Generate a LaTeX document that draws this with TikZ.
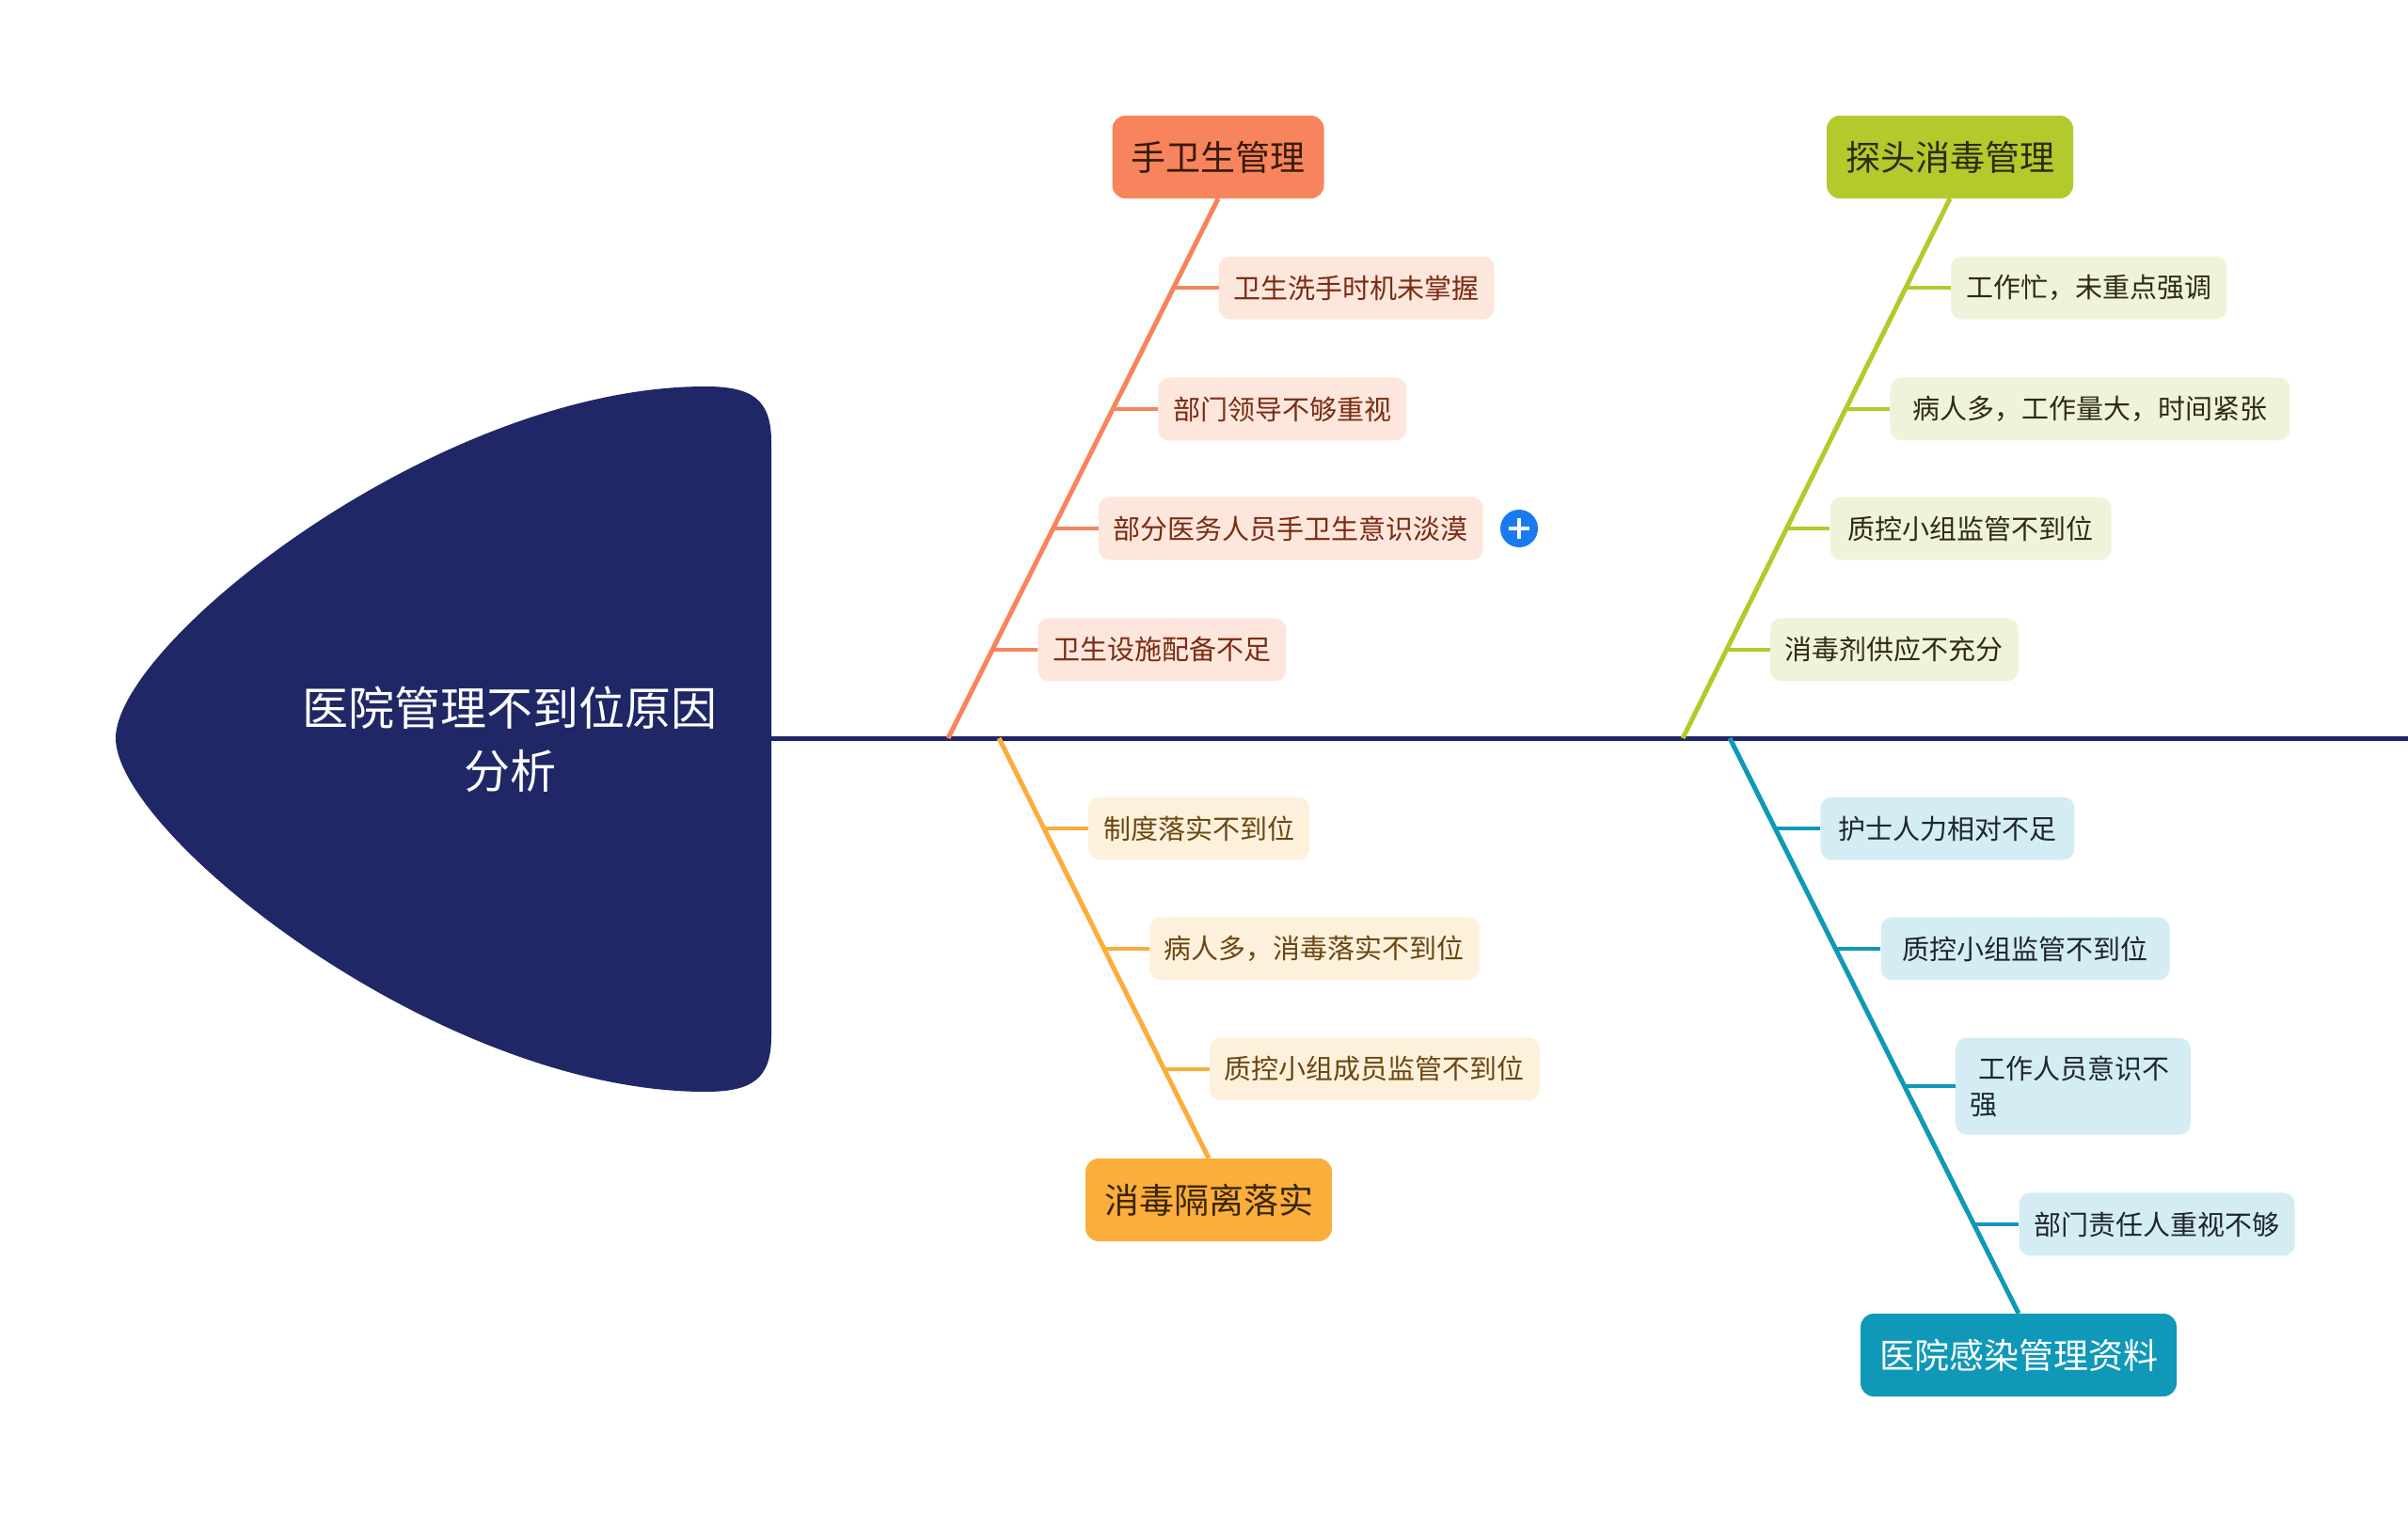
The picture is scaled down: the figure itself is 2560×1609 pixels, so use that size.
\documentclass[tikz,border=0pt]{standalone}
\usepackage{fontspec}
\setmainfont{Noto Sans CJK SC}
\usetikzlibrary{positioning,calc}

\definecolor{navy}{HTML}{1F2766}
\definecolor{handC}{HTML}{F7845C}
\definecolor{handL}{HTML}{FDE6DC}
\definecolor{handT}{HTML}{7A2B12}
\definecolor{handD}{HTML}{3A1A0C}
\definecolor{probeC}{HTML}{B4C92C}
\definecolor{probeL}{HTML}{F0F3DA}
\definecolor{probeT}{HTML}{2C2C14}
\definecolor{isoC}{HTML}{FBAE3B}
\definecolor{isoL}{HTML}{FEF1DC}
\definecolor{isoT}{HTML}{6A4611}
\definecolor{isoD}{HTML}{3A2608}
\definecolor{infC}{HTML}{0F98B7}
\definecolor{infL}{HTML}{D4EDF5}
\definecolor{infT}{HTML}{1E262C}
\definecolor{plusblue}{HTML}{1A7BF0}

\begin{document}
\begin{tikzpicture}
[
x=1pt, y=-1pt,
cat/.style={rounded corners=14pt, minimum height=88pt, inner xsep=20pt, font=\fontsize{37}{44}\selectfont},
leaf/.style={rounded corners=12pt, minimum height=67pt, inner xsep=16pt, font=\fontsize{29}{38}\selectfont},
bone/.style={line width=5pt},
twig/.style={line width=4pt}
]
\fill[white] (0,0) rectangle (2560,1609);
\useasboundingbox (0,0) rectangle (2560,1609);

% head and spine
\fill[navy] (123,785) .. controls (123,684) and (466,411) .. (750,411)
  .. controls (800,411) and (820,425) .. (820,470) -- (820,1102)
  .. controls (820,1147) and (800,1161) .. (750,1161)
  .. controls (466,1161) and (123,886) .. (123,785) -- cycle;
\node[text=white, align=center, font=\fontsize{49}{67}\selectfont] (head) at (542,786) {医院管理不到位原因\\分析};
\coordinate (spineL) at (820,785);
\coordinate (spineR) at (2560,785);
\draw[navy, line width=5pt] (spineL) -- (spineR);

% hand hygiene
\node[cat, fill=handC, text=handD] (hand) at (1295,167) {手卫生管理};
\coordinate (handS) at (1008,785);
\draw[bone, handC] (hand.south) -- (handS);
\coordinate (hand1) at ($(hand.south)!0.1655!(handS)$);
\coordinate (hand2) at ($(hand.south)!0.39!(handS)$);
\coordinate (hand3) at ($(hand.south)!0.6115!(handS)$);
\coordinate (hand4) at ($(hand.south)!0.836!(handS)$);
\node[leaf, fill=handL, text=handT, right=48pt of hand1] (handA) {卫生洗手时机未掌握};
\node[leaf, fill=handL, text=handT, right=48pt of hand2] (handB) {部门领导不够重视};
\node[leaf, fill=handL, text=handT, right=48pt of hand3] (handC) {部分医务人员手卫生意识淡漠};
\node[leaf, fill=handL, text=handT, right=48pt of hand4] (handD) {卫生设施配备不足};
\draw[twig, handC] (hand1) -- (handA);
\draw[twig, handC] (hand2) -- (handB);
\draw[twig, handC] (hand3) -- (handC);
\draw[twig, handC] (hand4) -- (handD);
\node[circle, fill=plusblue, minimum size=40pt, inner sep=0pt] (plus) at (1615,562) {};
\draw[white, line width=4.5pt] ([xshift=-11pt]plus.center) -- ([xshift=11pt]plus.center);
\draw[white, line width=4.5pt] ([yshift=-11pt]plus.center) -- ([yshift=11pt]plus.center);

% probe disinfection
\node[cat, fill=probeC, text=probeT] (probe) at (2073,167) {探头消毒管理};
\coordinate (probeS) at (1789,785);
\draw[bone, probeC] (probe.south) -- (probeS);
\coordinate (probe1) at ($(probe.south)!0.1655!(probeS)$);
\coordinate (probe2) at ($(probe.south)!0.39!(probeS)$);
\coordinate (probe3) at ($(probe.south)!0.6115!(probeS)$);
\coordinate (probe4) at ($(probe.south)!0.836!(probeS)$);
\node[leaf, fill=probeL, text=probeT, right=48pt of probe1] (probeA) {工作忙，未重点强调};
\node[leaf, fill=probeL, text=probeT, minimum width=425pt, right=47pt of probe2] (probeB) {病人多，工作量大，时间紧张};
\node[leaf, fill=probeL, text=probeT, minimum width=299pt, right=46pt of probe3] (probeC) {质控小组监管不到位};
\node[leaf, fill=probeL, text=probeT, right=46pt of probe4] (probeD) {消毒剂供应不充分};
\draw[twig, probeC] (probe1) -- (probeA);
\draw[twig, probeC] (probe2) -- (probeB);
\draw[twig, probeC] (probe3) -- (probeC);
\draw[twig, probeC] (probe4) -- (probeD);

% disinfection and isolation
\node[cat, fill=isoC, text=isoD] (iso) at (1285,1276) {消毒隔离落实};
\coordinate (isoS) at (1062,785);
\draw[bone, isoC] (isoS) -- (iso.north);
\coordinate (iso1) at ($(isoS)!0.215!(iso.north)$);
\coordinate (iso2) at ($(isoS)!0.501!(iso.north)$);
\coordinate (iso3) at ($(isoS)!0.7875!(iso.north)$);
\node[leaf, fill=isoL, text=isoT, right=47pt of iso1] (isoA) {制度落实不到位};
\node[leaf, fill=isoL, text=isoT, right=48pt of iso2] (isoB) {病人多，消毒落实不到位};
\node[leaf, fill=isoL, text=isoT, right=48pt of iso3] (isoC) {质控小组成员监管不到位};
\draw[twig, isoC] (iso1) -- (isoA);
\draw[twig, isoC] (iso2) -- (isoB);
\draw[twig, isoC] (iso3) -- (isoC);

% infection records
\node[cat, fill=infC, text=white] (inf) at (2146,1441) {医院感染管理资料};
\coordinate (infS) at (1839,785);
\draw[bone, infC] (infS) -- (inf.north);
\coordinate (inf1) at ($(infS)!0.157!(inf.north)$);
\coordinate (inf2) at ($(infS)!0.366!(inf.north)$);
\coordinate (inf3) at ($(infS)!0.605!(inf.north)$);
\coordinate (inf4) at ($(infS)!0.845!(inf.north)$);
\node[leaf, fill=infL, text=infT, minimum width=270pt, right=48pt of inf1] (infA) {护士人力相对不足};
\node[leaf, fill=infL, text=infT, minimum width=307pt, right=48pt of inf2] (infB) {质控小组监管不到位};
\node[leaf, fill=infL, text=infT, text width=218pt, align=left, minimum height=103pt, right=54pt of inf3] (infC) {\hspace*{9pt}工作人员意识不\\强};
\node[leaf, fill=infL, text=infT, right=48pt of inf4] (infD) {部门责任人重视不够};
\draw[twig, infC] (inf1) -- (infA);
\draw[twig, infC] (inf2) -- (infB);
\draw[twig, infC] (inf3) -- (infC);
\draw[twig, infC] (inf4) -- (infD);
\end{tikzpicture}
\end{document}
